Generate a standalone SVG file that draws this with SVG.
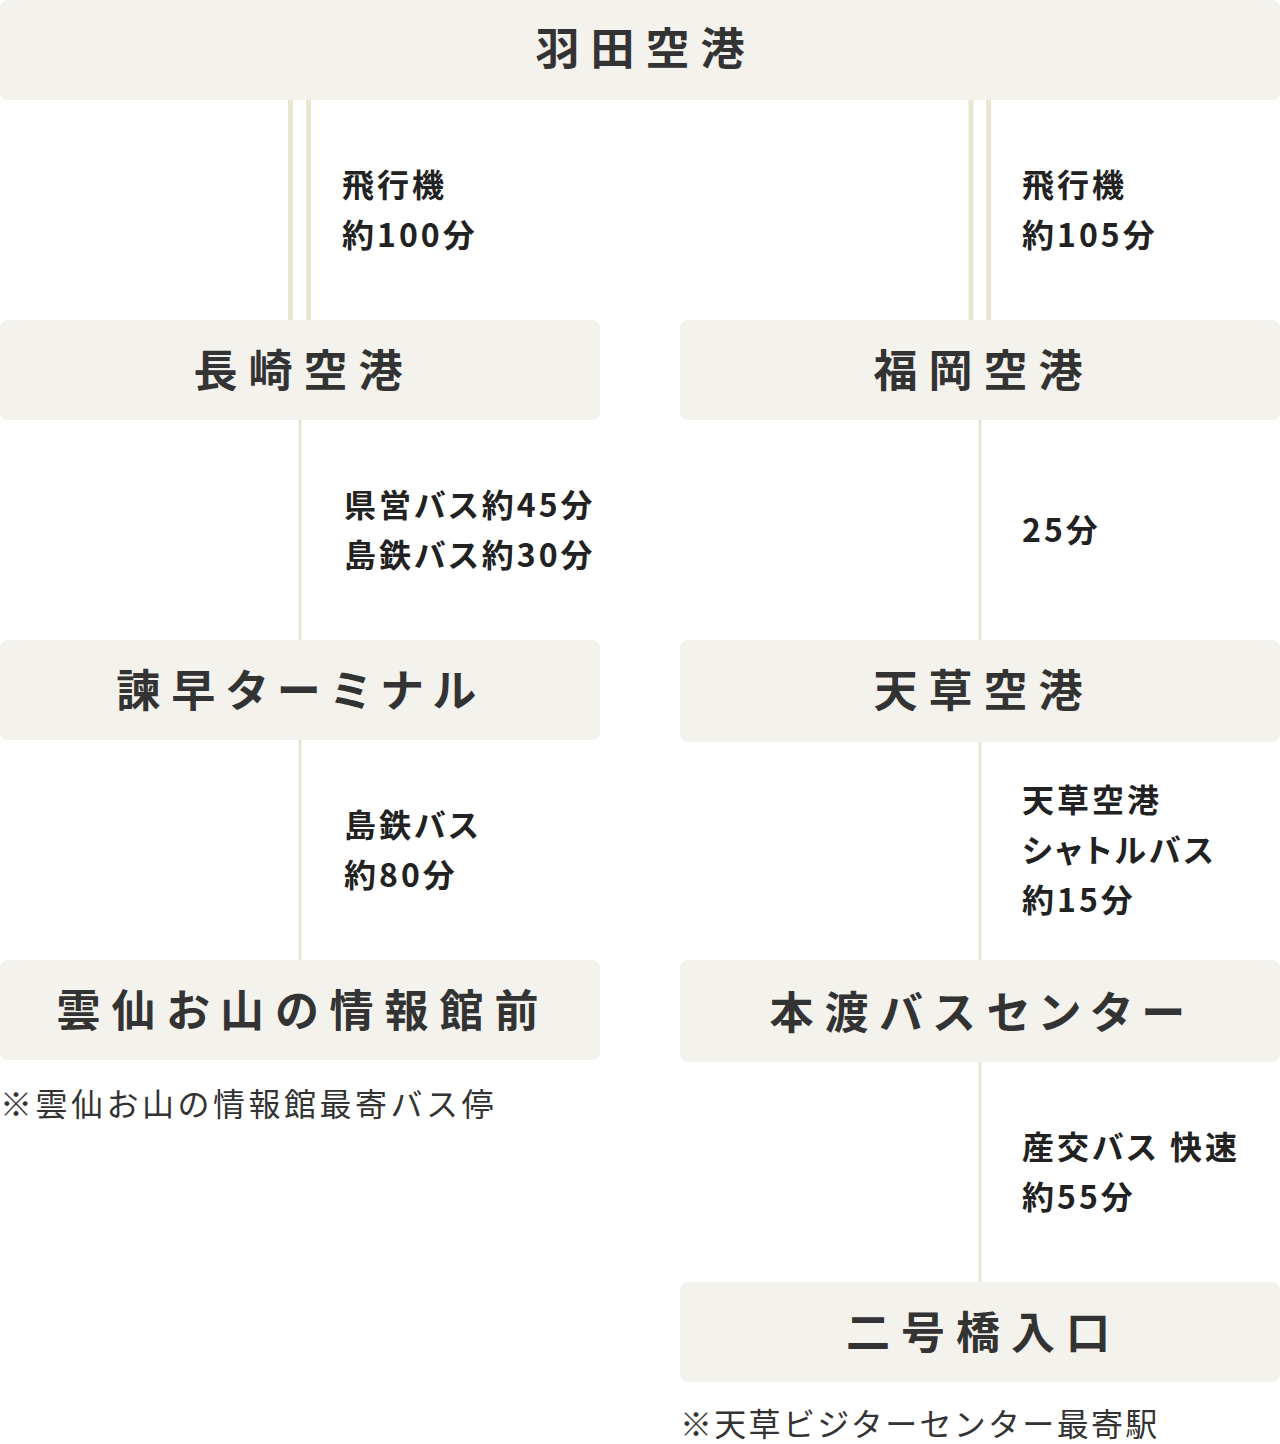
<svg xmlns="http://www.w3.org/2000/svg" width="1280" height="1444" viewBox="0 0 1280 1444">
<style>
.box{fill:#f3f2ed}
.ttl{font-family:"Noto Sans CJK JP","Noto Sans",sans-serif;font-weight:700;font-size:44px;letter-spacing:11px;fill:#333333;text-anchor:middle;font-feature-settings:"palt"}
.lbl{font-family:"Noto Sans CJK JP","Noto Sans",sans-serif;font-weight:700;font-size:32px;letter-spacing:3px;fill:#222222;font-feature-settings:"palt"}
.note{font-family:"Noto Sans CJK JP","Noto Sans",sans-serif;font-weight:400;font-size:32px;letter-spacing:3px;fill:#333333}
.ln{stroke:#e8e6d3;fill:none}
</style>
<g id="connectors">
<line class="ln" x1="290.5" y1="100" x2="290.5" y2="320" stroke-width="5"/>
<line class="ln" x1="308.5" y1="100" x2="308.5" y2="320" stroke-width="5"/>
<line class="ln" x1="971" y1="100" x2="971" y2="320" stroke-width="5"/>
<line class="ln" x1="988.5" y1="100" x2="988.5" y2="320" stroke-width="5"/>
<line class="ln" x1="300" y1="420" x2="300" y2="640" stroke-width="3"/>
<line class="ln" x1="300" y1="740" x2="300" y2="960" stroke-width="3"/>
<line class="ln" x1="980" y1="420" x2="980" y2="640" stroke-width="3"/>
<line class="ln" x1="980" y1="742" x2="980" y2="960" stroke-width="3"/>
<line class="ln" x1="980" y1="1062" x2="980" y2="1282" stroke-width="3"/>
<text class="lbl" x="342" y="197">飛行機</text>
<text class="lbl" x="342" y="247">約100分</text>
<text class="lbl" x="1022" y="197">飛行機</text>
<text class="lbl" x="1022" y="247">約105分</text>
<text class="lbl" x="344" y="517">県営バス約45分</text>
<text class="lbl" x="344" y="567">島鉄バス約30分</text>
<text class="lbl" x="1022" y="542">25分</text>
<text class="lbl" x="344" y="837">島鉄バス</text>
<text class="lbl" x="344" y="887">約80分</text>
<text class="lbl" x="1022" y="812">天草空港</text>
<text class="lbl" x="1022" y="862">シャトルバス</text>
<text class="lbl" x="1022" y="912">約15分</text>
<text class="lbl" x="1022" y="1159">産交バス 快速</text>
<text class="lbl" x="1022" y="1209">約55分</text>
</g>
<g id="haneda"><rect class="box" x="0" y="0" width="1280" height="100" rx="8"/><text class="ttl" x="645.5" y="65">羽田空港</text></g>
<g id="nagasaki"><rect class="box" x="0" y="320" width="600" height="100" rx="8"/><text class="ttl" x="303.5" y="387">長崎空港</text></g>
<g id="isahaya"><rect class="box" x="0" y="640" width="600" height="100" rx="8"/><text class="ttl" x="301.5" y="707">諫早ターミナル</text></g>
<g id="unzen"><rect class="box" x="0" y="960" width="600" height="100" rx="8"/><text class="ttl" x="303" y="1027">雲仙お山の情報館前</text>
<text class="note" x="0" y="1116" style="letter-spacing:3.5px">※雲仙お山の情報館最寄バス停</text></g>
<g id="fukuoka"><rect class="box" x="680" y="320" width="600" height="100" rx="8"/><text class="ttl" x="983.5" y="387">福岡空港</text></g>
<g id="amakusa"><rect class="box" x="680" y="640" width="600" height="102" rx="8"/><text class="ttl" x="983.5" y="707">天草空港</text></g>
<g id="hondo"><rect class="box" x="680" y="960" width="600" height="102" rx="8"/><text class="ttl" x="982.5" y="1029">本渡バスセンター</text></g>
<g id="nigobashi"><rect class="box" x="680" y="1282" width="600" height="100" rx="8"/><text class="ttl" x="983.5" y="1349">二号橋入口</text>
<text class="note" x="680" y="1436" style="letter-spacing:2.3px">※天草ビジターセンター最寄駅</text></g>
</svg>
